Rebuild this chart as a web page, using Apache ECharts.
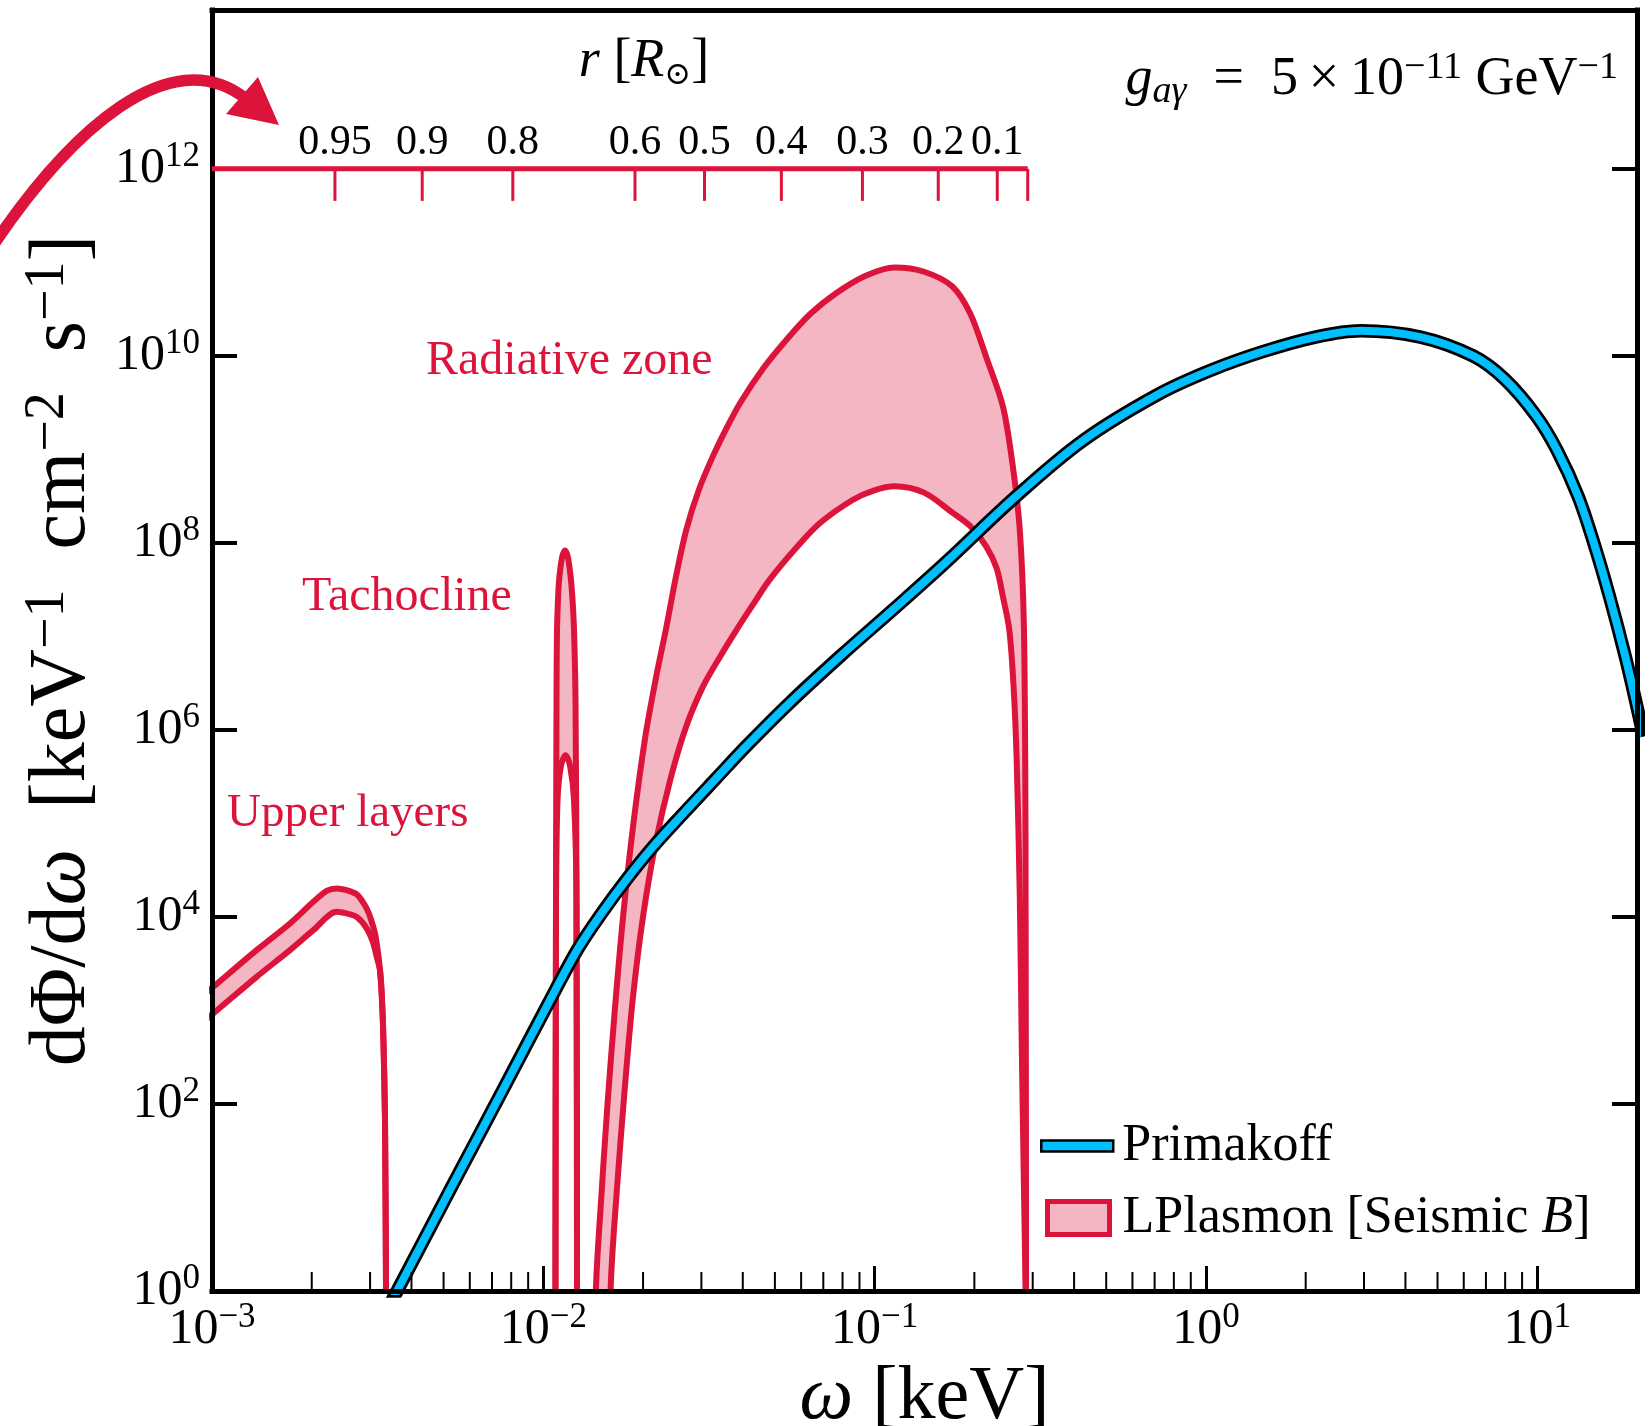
<!DOCTYPE html>
<html><head><meta charset="utf-8">
<script src="https://cdn.jsdelivr.net/npm/echarts@6/dist/echarts.min.js"></script>
<style>html,body{margin:0;padding:0;background:#fff}#chart{width:1651px;height:1426px}</style>
</head><body><div id="chart"></div>
<script>
const FONT = "'Liberation Serif','DejaVu Serif',serif";
const RED = '#DC143C', PINK = '#F4B6C2', BLUE = '#00BFFF';

// ---- data: [omega keV, dPhi/domega keV^-1 cm^-2 s^-1] ----
const primakoff = [
  [3.44e-3,0.714],[3.62e-3,1],[5.33e-3,13.7],[7.69e-3,160],[1.083e-2,1.61e3],[1.264e-2,4.41e3],
  [1.484e-2,1.04e4],[1.781e-2,2.50e4],[2.139e-2,5.58e4],[2.663e-2,1.31e5],[3.316e-2,3.01e5],
  [4.130e-2,6.89e5],[5.532e-2,1.94e6],[7.97e-2,6.39e6],[0.1149,2.0e7],[0.1656,6.41e7],
  [0.2663,3.11e8],[0.428,1.26e9],[0.714,3.84e9],[1.030,6.97e9],[1.484,1.11e10],[2.139,1.59e10],
  [2.929,1.86e10],[4.443,1.59e10],[6.40,1.0e10],[7.97,5.66e9],[9.93,2.28e9],[11.49,9.71e8],
  [13.30,3.11e8],[14.95,8.98e7],[16.56,2.59e7],[18.48,5.91e6],[19.88,1.94e6],[20.93,8.47e5]
];
const upperLayersHigh = [
  [8.78e-4,1.18e3],[1.0093e-3,1.79e3],[1.3636e-3,4.42e3],[1.7193e-3,8.52e3],[2.0219e-3,1.45e4],
  [2.2185e-3,1.90e4],[2.3780e-3,2.02e4],[2.5483e-3,1.94e4],[2.7334e-3,1.75e4],[2.8300e-3,1.51e4],
  [2.9300e-3,1.23e4],[3.0196e-3,9.41e3],[3.1046e-3,6.66e3],[3.1627e-3,4.42e3],[3.2144e-3,2.70e3],
  [3.2594e-3,1.29e3],[3.2897e-3,524],[3.3280e-3,67.3],[3.3512e-3,1.02],[3.36e-3,0.1]
];
const upperLayersLow = [
  [8.78e-4,617],[1.0093e-3,930],[1.3636e-3,2.29e3],[1.7193e-3,4.42e3],[2.0219e-3,7.23e3],
  [2.3780e-3,1.136e4],[2.5483e-3,1.09e4],[2.7334e-3,1.00e4],[2.9300e-3,7.54e3],[3.0690e-3,5.21e3],
  [3.1403e-3,3.75e3],[3.2144e-3,2.70e3],[3.2594e-3,1.29e3],[3.2897e-3,524],[3.3280e-3,67.3],
  [3.3512e-3,1.02],[3.36e-3,0.1]
];
const tachoclineHigh = [
  [0.010874,0.1],[0.010922,1.51e4],[0.010960,2.09e6],[0.010998,1.17e7],[0.011100,3.0e7],[0.011192,4.47e7],
  [0.011402,7.08e7],[0.011628,8.32e7],[0.011858,7.08e7],[0.012080,4.47e7],[0.012240,2.6e7],[0.012378,1.17e7],
  [0.012507,2.09e6],[0.012594,1.51e4],[0.012646,0.1]
];
const tachoclineLow = [
  [0.010874,0.1],[0.010922,1.51e4],[0.011039,1.78e5],[0.011308,4.17e5],[0.011668,5.37e5],
  [0.012038,4.17e5],[0.012378,1.78e5],[0.012594,1.51e4],[0.012646,0.1]
];
const radiativeHigh = [
  [0.014359,0.151],[0.014412,1],[0.014947,9.52],[0.015617,97.9],[0.016436,1.01e3],[0.017424,1.04e4],
  [0.018750,1.07e5],[0.020318,8.47e5],[0.021860,3.55e6],[0.023511,1.25e7],[0.025119,4.30e7],
  [0.027021,1.39e8],[0.029500,3.73e8],[0.032436,8.32e8],[0.035674,1.67e9],[0.039235,3.12e9],
  [0.046070,7.33e9],[0.054117,1.48e10],[0.064007,2.82e10],[0.076839,4.73e10],[0.093627,7.16e10],
  [0.11489,8.81e10],[0.14101,7.94e10],[0.17171,5.52e10],[0.19446,2.82e10],[0.21708,9.75e9],
  [0.24390,2.88e9],[0.26048,7.13e8],[0.27416,1.39e8],[0.28229,1.19e7],[0.28540,6.35e4],
  [0.28644,1],[0.28708,0.151]
];
const radiativeLow = [
  [0.015905,0.151],[0.015963,1],[0.016681,12.3],[0.017556,127],[0.018613,1.31e3],[0.020022,1.04e4],
  [0.021860,6.35e4],[0.024210,3.01e5],[0.027021,1.10e6],[0.030376,2.94e6],[0.034151,6.07e6],
  [0.038385,1.19e7],[0.042819,2.16e7],[0.048157,4.02e7],[0.057382,8.51e7],[0.068391,1.63e8],
  [0.085770,2.88e8],[0.099272,3.63e8],[0.11489,4.03e8],[0.14101,3.45e8],[0.17171,2.11e8],
  [0.19446,1.51e8],[0.21708,9.20e7],[0.23349,5.35e7],[0.24390,2.66e7],[0.25483,1.19e7],
  [0.26241,3.09e6],[0.26823,5.05e5],[0.27416,1.74e4],[0.27819,357],[0.28229,12.3],[0.28540,1],[0.28602,0.151]
];
// secondary radius axis (r in solar radii) drawn on the 1e12 level
const rTickOmega = [2.35e-3,4.31e-3,8.09e-3,0.01891,0.03066,0.05230,0.09187,0.1556,0.2345,0.2898];
const rTickLabels = ['0.95','0.9','0.8','0.6','0.5','0.4','0.3','0.2','0.1',''];
const rAxisOmega = [1e-3,0.2898];
const rAxisFlux = 1e12;
const xMinorTicks = [0.002,0.003,0.004,0.005,0.006,0.007,0.008,0.009,
  0.02,0.03,0.04,0.05,0.06,0.07,0.08,0.09,0.2,0.3,0.4,0.5,0.6,0.7,0.8,0.9,2,3,4,5,6,7,8,9];

const bands = [[upperLayersHigh,upperLayersLow],[tachoclineHigh,tachoclineLow],[radiativeHigh,radiativeLow]];

function sup(n){ return n<0 ? '−'+(-n) : ''+n; }
function xfmt(v){ const e=Math.log10(v), r=Math.round(e); if(Math.abs(e-r)>1e-4) return ''; return '{b|10}{s|'+sup(r)+'}'; }
function yfmt(v){ const e=Math.log10(v), r=Math.round(e); if(Math.abs(e-r)>1e-4 || r%2) return ''; return '{b|10}{s|'+sup(r)+'}'; }

const tickRich = {
  b:{fontFamily:FONT,fontSize:50,lineHeight:60,color:'#000'},
  s:{fontFamily:FONT,fontSize:35,lineHeight:34,verticalAlign:'top',color:'#000'}
};

function redLine(name,data){
  return {type:'line',name,data,symbol:'none',silent:true,z:4,clip:true,smooth:0.3,
    lineStyle:{color:RED,width:6},itemStyle:{color:RED}};
}

const chart = echarts.init(document.getElementById('chart'),null,{renderer:'canvas'});
chart.setOption({
  animation:false,
  backgroundColor:'#fff',
  grid:{left:212,top:10,width:1425,height:1281,containLabel:false,outerBoundsMode:'none'},
  xAxis:[{
    type:'log',logBase:10,min:1e-3,max:20,interval:1,position:'bottom',z:10,
    axisLine:{show:true,lineStyle:{color:'#000',width:5,cap:'square'}},
    axisTick:{show:true,inside:true,length:25,lineStyle:{color:'#000',width:3}},
    minorTick:{show:false},splitLine:{show:false},
    axisLabel:{formatter:xfmt,margin:9,rich:tickRich,showMinLabel:true,showMaxLabel:false,hideOverlap:false},
    name:'{i|ω}{t| [keV]}',nameLocation:'middle',nameGap:61,
    nameTextStyle:{rich:{i:{fontFamily:FONT,fontSize:76,fontStyle:'italic',color:'#000',lineHeight:80},
                         t:{fontFamily:FONT,fontSize:76,color:'#000',lineHeight:80}}}
  },{
    type:'log',logBase:10,min:1e-3,max:20,position:'top',z:10,
    axisLine:{show:true,lineStyle:{color:'#000',width:5,cap:'square'}},
    axisTick:{show:false},axisLabel:{show:false},splitLine:{show:false}
  }],
  yAxis:[{
    type:'log',logBase:10,min:1,max:5e13,interval:2,position:'left',z:10,
    axisLine:{show:true,lineStyle:{color:'#000',width:5,cap:'square'}},
    axisTick:{show:true,inside:true,length:25,lineStyle:{color:'#000',width:4}},
    minorTick:{show:false},splitLine:{show:false},
    axisLabel:{formatter:yfmt,margin:12,rich:tickRich,showMinLabel:true,showMaxLabel:false,hideOverlap:false},
    name:'{t|dΦ/d}{i|ω}{t|  [keV}{s|−1}{t|  cm}{s|−2}{t|  s}{s|−1}{t|]}',
    nameLocation:'middle',nameGap:106,nameRotate:90,
    nameTextStyle:{rich:{
      t:{fontFamily:FONT,fontSize:80,color:'#000',lineHeight:86},
      i:{fontFamily:FONT,fontSize:80,fontStyle:'italic',color:'#000',lineHeight:86},
      s:{fontFamily:FONT,fontSize:56,color:'#000',lineHeight:52,verticalAlign:'top'}}}
  },{
    type:'log',logBase:10,min:1,max:5e13,interval:2,position:'right',z:10,
    axisLine:{show:true,lineStyle:{color:'#000',width:5,cap:'square'}},
    axisTick:{show:true,inside:true,length:25,lineStyle:{color:'#000',width:4}},
    axisLabel:{show:false},splitLine:{show:false}
  }],
  legend:[{
    data:[{name:'Primakoff',icon:'rect',itemStyle:{color:BLUE,borderColor:'#000',borderWidth:2.5}}],
    left:1040,top:1118,padding:0,itemWidth:72,itemHeight:11,selectedMode:false,
    textStyle:{fontFamily:FONT,fontSize:52,color:'#000',lineHeight:56,padding:[0,0,0,4]}
  },{
    data:[{name:'LPlasmon [Seismic B]',icon:'rect',itemStyle:{color:PINK,borderColor:RED,borderWidth:5}}],
    left:1045,top:1190,padding:0,itemWidth:62,itemHeight:33,selectedMode:false,
    formatter:()=>'{n|LPlasmon [Seismic }{i|B}{n|]}',
    textStyle:{fontFamily:FONT,fontSize:52,color:'#000',lineHeight:56,padding:[0,0,0,8],
      rich:{n:{fontFamily:FONT,fontSize:52,color:'#000'},i:{fontFamily:FONT,fontSize:52,fontStyle:'italic',color:'#000'}}}
  }],
  series:[
    {type:'custom',name:'LPlasmon [Seismic B]',silent:true,z:3,clip:true,
      itemStyle:{color:PINK},
      data:bands.map(()=>[1,1]),
      renderItem(params,api){
        const b=bands[params.dataIndex];
        let pts=b[0].map(p=>api.coord(p)).concat(b[1].slice().reverse().map(p=>api.coord(p)));
        pts=echarts.graphic.clipPointsByRect(pts,params.coordSys);
        return {type:'polygon',shape:{points:pts,smooth:0},style:{fill:PINK,stroke:null}};
      }},
    redLine('ulHigh',upperLayersHigh),redLine('ulLow',upperLayersLow),
    redLine('tcHigh',tachoclineHigh),redLine('tcLow',tachoclineLow),
    redLine('rzHigh',radiativeHigh),redLine('rzLow',radiativeLow),
    {type:'line',name:'Primakoff outline',data:primakoff,symbol:'none',silent:true,z:6,smooth:0.35,clip:true,
      lineStyle:{color:'#000',width:13.5},itemStyle:{color:'#000'}},
    {type:'line',name:'Primakoff',data:primakoff,symbol:'none',silent:true,z:7,smooth:0.35,clip:true,
      lineStyle:{color:BLUE,width:8},itemStyle:{color:BLUE,borderColor:'#000'}},
    {type:'line',name:'rAxis',data:rAxisOmega.map(w=>[w,rAxisFlux]),symbol:'none',silent:true,z:12,
      lineStyle:{color:RED,width:5},itemStyle:{color:RED}},
    {type:'custom',name:'rTicks',silent:true,z:12,data:rTickOmega.map(w=>[w,rAxisFlux]),
      renderItem(params,api){
        const p=api.coord([api.value(0),api.value(1)]);
        return {type:'group',children:[
          {type:'line',shape:{x1:p[0],y1:p[1],x2:p[0],y2:p[1]+32},style:{stroke:RED,lineWidth:3}},
          {type:'text',x:p[0],y:p[1]-26,style:{text:rTickLabels[params.dataIndex],fill:'#000',
            font:'42px '+FONT,align:'center',verticalAlign:'middle',textAlign:'center',textVerticalAlign:'middle'}}
        ]};
      }},
    {type:'custom',name:'minorTicks',silent:true,z:11,data:xMinorTicks.map(w=>[w,1]),
      renderItem(params,api){
        const p=api.coord([api.value(0),api.value(1)]);
        return {type:'line',shape:{x1:p[0],y1:p[1],x2:p[0],y2:p[1]-19},style:{stroke:'#000',lineWidth:2}};
      }}
  ],
  graphic:[
    {type:'text',x:426,y:361,z:20,style:{text:'Radiative zone',fill:RED,font:'48px '+FONT,align:'left',verticalAlign:'middle',textAlign:'left',textVerticalAlign:'middle'}},
    {type:'text',x:302,y:597,z:20,style:{text:'Tachocline',fill:RED,font:'48px '+FONT,align:'left',verticalAlign:'middle',textAlign:'left',textVerticalAlign:'middle'}},
    {type:'text',x:227,y:814,z:20,style:{text:'Upper layers',fill:RED,font:'47px '+FONT,align:'left',verticalAlign:'middle',textAlign:'left',textVerticalAlign:'middle'}},
    {type:'text',x:1618,y:80,z:20,style:{
      text:'{i|g}{sb|aγ}{n|\u2002=\u20025\u2009×\u200910}{sp|−11}{n| GeV}{sp|−1}',
      align:'right',verticalAlign:'middle',textAlign:'right',textVerticalAlign:'middle',
      rich:{i:{fontFamily:FONT,fontSize:54,fontStyle:'italic',fill:'#000',color:'#000',lineHeight:62},
            n:{fontFamily:FONT,fontSize:54,fill:'#000',color:'#000',lineHeight:62},
            sb:{fontFamily:FONT,fontSize:38,fontStyle:'italic',fill:'#000',color:'#000',lineHeight:34,verticalAlign:'bottom'},
            sp:{fontFamily:FONT,fontSize:38,fill:'#000',color:'#000',lineHeight:34,verticalAlign:'top'}}}},
    {type:'text',x:644,y:62,z:20,style:{
      text:'{i|r}{n| [}{i|R}{sb|⊙}{n|]}',
      align:'center',verticalAlign:'middle',textAlign:'center',textVerticalAlign:'middle',
      rich:{i:{fontFamily:FONT,fontSize:54,fontStyle:'italic',fill:'#000',color:'#000',lineHeight:60},
            n:{fontFamily:FONT,fontSize:54,fill:'#000',color:'#000',lineHeight:60},
            sb:{fontFamily:FONT,fontSize:32,fill:'#000',color:'#000',lineHeight:38,verticalAlign:'bottom'}}}},
    {type:'bezierCurve',z:20,shape:{x1:-10,y1:250,cpx1:70,cpy1:130,cpx2:170,cpy2:40,x2:245,y2:98},
      style:{stroke:RED,lineWidth:11.5,fill:null}},
    {type:'polygon',z:20,shape:{points:[[279,125],[258,77],[226,114]]},style:{fill:RED}}
  ]
});
</script></body></html>
